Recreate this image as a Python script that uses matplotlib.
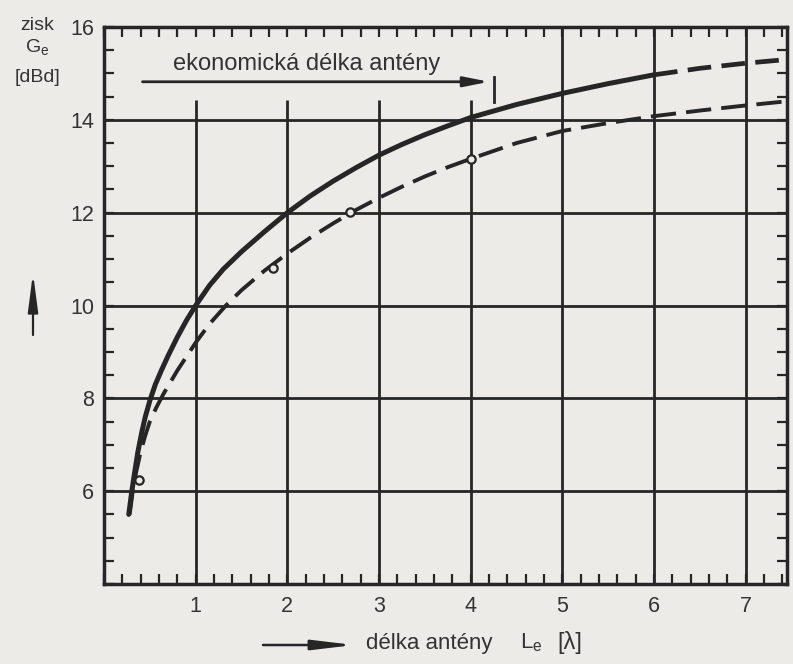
import matplotlib
matplotlib.use('Agg')
import matplotlib.pyplot as plt
from matplotlib.ticker import MultipleLocator, FixedLocator

plt.rcParams['font.family'] = ['Liberation Sans', 'DejaVu Sans']
plt.rcParams['mathtext.fontset'] = 'custom'
plt.rcParams['mathtext.rm'] = 'Liberation Sans'

# ---- data ----
solid_x = [0.27, 0.30, 0.33, 0.37, 0.41, 0.45, 0.50, 0.56, 0.63, 0.70, 0.80, 0.90,
           1.0, 1.15, 1.3, 1.5, 1.75, 2.0, 2.25, 2.5, 2.75, 3.0, 3.25, 3.5, 3.75,
           4.0, 4.5, 5.0, 5.5, 6.0]
solid_y = [5.5, 5.95, 6.35, 6.85, 7.25, 7.6, 7.95, 8.3, 8.62, 8.92, 9.32, 9.68,
           10.0, 10.43, 10.78, 11.16, 11.59, 12.0, 12.36, 12.68, 12.97, 13.24, 13.47, 13.68, 13.87,
           14.05, 14.33, 14.57, 14.78, 14.97]
solid_ext_x = [6.0, 6.5, 7.0, 7.45]
solid_ext_y = [14.97, 15.11, 15.22, 15.3]

dashed_x = [0.28, 0.31, 0.35, 0.40, 0.45, 0.50, 0.57, 0.65, 0.80, 1.0, 1.15, 1.33,
            1.5, 1.75, 2.0, 2.25, 2.5, 2.75, 3.0, 3.25, 3.5, 3.75, 4.0, 4.5, 5.0,
            5.5, 6.0, 6.5, 7.0, 7.45]
dashed_y = [5.5, 5.95, 6.4, 6.85, 7.2, 7.5, 7.8, 8.1, 8.6, 9.2, 9.6, 10.0,
            10.33, 10.75, 11.12, 11.46, 11.77, 12.06, 12.32, 12.56, 12.78, 12.98, 13.16, 13.5, 13.76,
            13.93, 14.08, 14.2, 14.31, 14.4]

marker_x = [0.38, 1.84, 2.68, 4.0]
marker_y = [6.23, 10.8, 12.02, 13.16]

x_ticks = [1, 2, 3, 4, 5, 6, 7]
y_ticks = [6, 8, 10, 12, 14, 16]
y_grid = [6, 8, 10, 12, 14]
x_grid_short = [1, 2, 3, 4]
x_grid_full = [5, 6, 7]

econ_start = 0.42
econ_end = 4.2
econ_label = 'ekonomická délka antény'

ink = '#262626'
txt = '#333333'
bg = '#ecebe8'

fig = plt.figure(figsize=(7.93, 6.64), dpi=100)
fig.patch.set_facecolor(bg)
ax = fig.add_axes([104 / 793, 80 / 664, 683 / 793, 557 / 664])
ax.set_facecolor(bg)
ax.set_xlim(0, 7.45)
ax.set_ylim(4, 16)

# grid
ax.hlines(y_grid, 0, 7.45, colors=ink, lw=2.0, zorder=1)
ax.vlines(x_grid_short, 4, 14.43, colors=ink, lw=2.0, zorder=1)
ax.vlines(x_grid_full, 4, 16, colors=ink, lw=2.0, zorder=1)

# curves
ax.plot(solid_x, solid_y, color=ink, lw=3.6, solid_capstyle='round',
        solid_joinstyle='round', zorder=3)
ax.plot(solid_ext_x, solid_ext_y, color=ink, lw=3.4, dashes=(5.0, 2.2), zorder=3)
ax.plot(dashed_x, dashed_y, color=ink, lw=2.8, dashes=(6.5, 2.6), zorder=3)
ax.plot(marker_x, marker_y, linestyle='none', marker='o', ms=6, mew=1.6,
        mfc=bg, mec=ink, zorder=4)

# economic length annotation
ax.annotate('', xy=(econ_end, 14.82), xytext=(econ_start, 14.82),
            arrowprops=dict(arrowstyle='-|>,head_length=1.5,head_width=0.3',
                            lw=2.0, color=ink, shrinkA=0, shrinkB=0), zorder=5)
ax.plot([econ_end + 0.05, econ_end + 0.05], [14.39, 14.92], color=ink, lw=2.0, zorder=5)
ax.text((econ_start + econ_end) / 2 - 0.1, 15.2, econ_label, ha='center', va='center',
        fontsize=17, color=txt)

# axes styling
for s in ax.spines.values():
    s.set_linewidth(2.5)
    s.set_color(ink)
ax.xaxis.set_major_locator(FixedLocator(x_ticks))
ax.xaxis.set_minor_locator(MultipleLocator(0.2))
ax.yaxis.set_major_locator(FixedLocator(y_ticks))
ax.yaxis.set_minor_locator(MultipleLocator(0.5))
ax.tick_params(which='both', direction='in', top=True, right=True,
               color=ink, width=1.6)
ax.tick_params(which='major', length=7, labelsize=15.5, labelcolor=txt)
ax.tick_params(which='minor', length=7)
ax.tick_params(axis='x', which='major', pad=9)
ax.tick_params(axis='y', which='major', pad=7)

# y label
fig.text(37 / 793, 1 - 26 / 664, 'zisk', ha='center', va='center', fontsize=14, color=txt)
fig.text(37 / 793, 1 - 48 / 664, r'G$_\mathregular{e}$', ha='center', va='center', fontsize=14, color=txt)
fig.text(37 / 793, 1 - 77 / 664, '[dBd]', ha='center', va='center', fontsize=14, color=txt)
ax.annotate('', xy=(33, 664 - 273), xytext=(33, 664 - 335), xycoords='figure pixels',
            textcoords='figure pixels',
            arrowprops=dict(arrowstyle='-|>,head_length=2.3,head_width=0.3',
                            lw=1.6, color=ink, shrinkA=0, shrinkB=0), annotation_clip=False)

# x label
ax.annotate('', xy=(354, 664 - 645), xytext=(263, 664 - 645), xycoords='figure pixels',
            textcoords='figure pixels',
            arrowprops=dict(arrowstyle='-|>,head_length=2.5,head_width=0.3',
                            lw=1.8, color=ink, shrinkA=0, shrinkB=0), annotation_clip=False)
fig.text(366 / 793, 1 - 643 / 664, 'délka antény', ha='left', va='center', fontsize=16, color=txt)
fig.text(520 / 793, 1 - 643 / 664, r'L$_\mathregular{e}$', ha='left', va='center', fontsize=16, color=txt)
fig.text(557 / 793, 1 - 643 / 664, '[λ]', ha='left', va='center', fontsize=17, color=txt)

fig.savefig('out.png', dpi=100, facecolor=bg)
